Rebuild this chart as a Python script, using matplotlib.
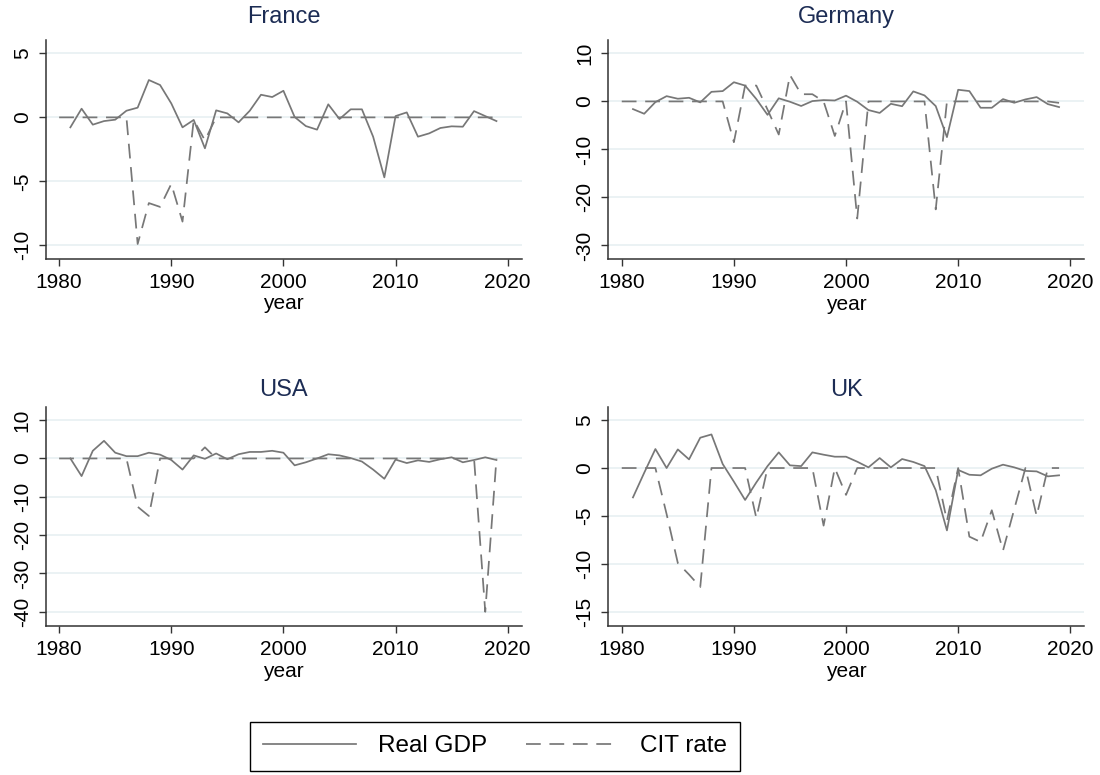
import matplotlib
matplotlib.use("Agg")
import matplotlib.pyplot as plt
import numpy as np

years = np.arange(1980, 2020)
nan = np.nan

# Real GDP (starts 1981)
france_gdp = [nan, -0.78, 0.68, -0.57, -0.29, -0.18, 0.52, 0.76, 2.92, 2.53, 1.09,
              -0.78, -0.2, -2.42, 0.55, 0.31, -0.39, 0.52, 1.77, 1.59, 2.08,
              0.03, -0.68, -0.96, 1.02, -0.13, 0.63, 0.63, -1.51, -4.69, 0.1,
              0.39, -1.51, -1.25, -0.83, -0.7, -0.73, 0.49, 0.1, -0.29]
germany_gdp = [nan, -1.6, -2.57, -0.14, 1.1, 0.56, 0.76, -0.2, 2.0, 2.15, 4.0,
               3.3, 0.5, -2.8, 0.65, -0.07, -0.95, 0.07, 0.28, 0.2, 1.2,
               -0.07, -1.8, -2.4, -0.5, -1.0, 2.09, 1.25, -0.97, -7.44, 2.43,
               2.16, -1.32, -1.32, 0.49, -0.28, 0.42, 0.9, -0.56, -1.18]
usa_gdp = [nan, 0.0, -4.6, 2.0, 4.6, 1.5, 0.6, 0.6, 1.5, 1.0, -0.4,
           -2.9, 0.8, -0.1, 1.3, -0.2, 1.1, 1.7, 1.7, 2.0, 1.5,
           -1.8, -1.0, 0.0, 1.1, 0.8, 0.1, -0.8, -2.9, -5.3, -0.3,
           -1.2, -0.5, -0.9, -0.2, 0.3, -1.0, -0.4, 0.3, -0.4]
uk_gdp = [nan, -3.06, -0.5, 1.98, 0.0, 1.94, 0.9, 3.16, 3.5, 0.42, -1.42,
          -3.33, -1.5, 0.2, 1.63, 0.28, 0.2, 1.63, 1.39, 1.18, 1.18,
          0.66, 0.07, 1.04, 0.07, 0.94, 0.63, 0.2, -2.3, -6.5, -0.2,
          -0.7, -0.76, -0.07, 0.35, 0.07, -0.3, -0.35, -0.87, -0.76]

# CIT rate
france_cit = [0, 0, 0, 0, 0, 0, 0, -9.9, -6.7, -7.0, -5.2, -8.15, -0.2, -1.8] + [0] * 26
germany_cit = ([0] * 10 + [-8.5, 3.3, 3.3, -1.7, -6.9, 5.5, 1.5, 1.5, 0, -7.2, 0, -24.4]
               + [0] * 6 + [-22.5] + [0] * 10 + [-0.3])
usa_cit = [0] * 7 + [-12.6, -15.0] + [0] * 4 + [2.9] + [0] * 24 + [-40.0, 0]
uk_cit = ([0] * 4 + [-4.8, -9.9, -11.1, -12.4] + [0] * 4 + [-5.2] + [0] * 5
          + [-6.0, 0, -2.8] + [0] * 8 + [-5.5, 0, -7.15, -7.7, -4.4, -8.6, -4.3, 0, -5.0, 0, 0])

countries = ["France", "Germany", "USA", "UK"]
gdp_series = [france_gdp, germany_gdp, usa_gdp, uk_gdp]
cit_series = [france_cit, germany_cit, usa_cit, uk_cit]
y_ticks = [[5, 0, -5, -10], [10, 0, -10, -20, -30],
           [10, 0, -10, -20, -30, -40], [5, 0, -5, -10, -15]]
y_limits = [(-11.05, 6.05), (-32.9, 12.8), (-43.7, 13.5), (-16.46, 6.39)]

# axes boxes in pixels: left, top, right, bottom
boxes = [(45.7, 40, 521.7, 258.7), (608.3, 40, 1084.3, 259.3),
         (45.7, 406.7, 521.7, 626), (608.3, 406.7, 1084.3, 626)]
title_pads = [12, 12, 8, 8]

plt.rcParams['font.family'] = ['Liberation Sans', 'DejaVu Sans']

W, H = 1100, 775
fig = plt.figure(figsize=(W / 100, H / 100), dpi=100)

line_color = '#777777'
dash = (0, (8.5, 5))

for i, name in enumerate(countries):
    l, t, r, b = boxes[i]
    ax = fig.add_axes([l / W, 1 - b / H, (r - l) / W, (b - t) / H])
    ax.plot(years, gdp_series[i], color=line_color, lw=1.25, ls='-', label='Real GDP')
    ax.plot(years, cit_series[i], color=line_color, lw=1.25, ls=dash, label='CIT rate')

    ax.set_xlim(1978.8, 2021.25)
    ax.set_ylim(*y_limits[i])
    ax.set_xticks([1980, 1990, 2000, 2010, 2020])
    ax.set_yticks(y_ticks[i])
    ax.set_yticklabels([str(v) for v in y_ticks[i]], rotation=90, va='center')
    ax.tick_params(direction='out', length=5, width=1, labelsize=15, pad=5, color='#333333')
    ax.set_xlabel('year', fontsize=15, labelpad=2)
    ax.set_title(name, fontsize=17, color='#1c2c54', pad=title_pads[i])

    ax.yaxis.grid(True, color='#e8f0f2', lw=1.2)
    ax.set_axisbelow(True)
    for side in ['top', 'right']:
        ax.spines[side].set_visible(False)
    for side in ['left', 'bottom']:
        ax.spines[side].set_linewidth(1.1)
        ax.spines[side].set_color('#333333')

    if i == 0:
        handles, labels = ax.get_legend_handles_labels()

leg = fig.legend(handles, labels, loc='upper left', bbox_to_anchor=(250 / W, 1 - 722 / H),
                 ncol=2, fontsize=17.5, frameon=True, fancybox=False, framealpha=1,
                 edgecolor='black', handlelength=3.8, handletextpad=0.9,
                 columnspacing=1.6, borderpad=0.55, borderaxespad=0)
leg.get_frame().set_linewidth(1.0)

fig.savefig('out.png', dpi=100)
